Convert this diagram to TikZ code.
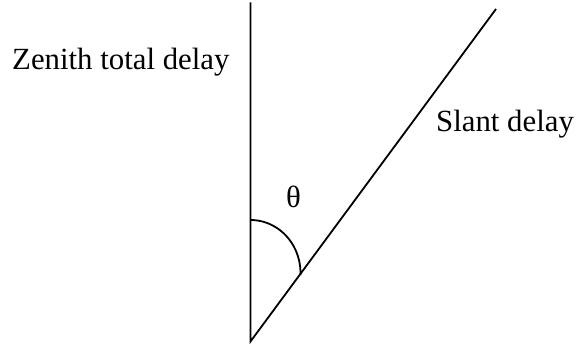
\documentclass[tikz,border=0pt]{standalone}
\usepackage{fontspec}
\setmainfont{Liberation Serif}
\begin{document}
\begin{tikzpicture}[x=1pt,y=1pt,
  lbl/.style={inner sep=0pt,font=\fontsize{30.8}{34}\selectfont},
  ray/.style={line width=1.8pt,line cap=butt}]
\useasboundingbox (0,0) rectangle (576,347);
\coordinate (O) at (250.5,5.5);
\coordinate (Ztop) at (250.5,344.5);
\coordinate (Stop) at (496,338);
\coordinate (A) at (250.5,127);
\draw[ray] (Ztop) -- (O) -- (Stop);
\draw[line width=1.8pt] (A) arc[start angle=90,end angle=-2,x radius=50,y radius=53];
\node[lbl,anchor=base west] (zen) at (12,277) {Zenith total delay};
\node[lbl,anchor=base west] (sla) at (436,215.5) {Slant delay};
\node[lbl] (th) at (293.5,150) {θ};
\end{tikzpicture}
\end{document}
